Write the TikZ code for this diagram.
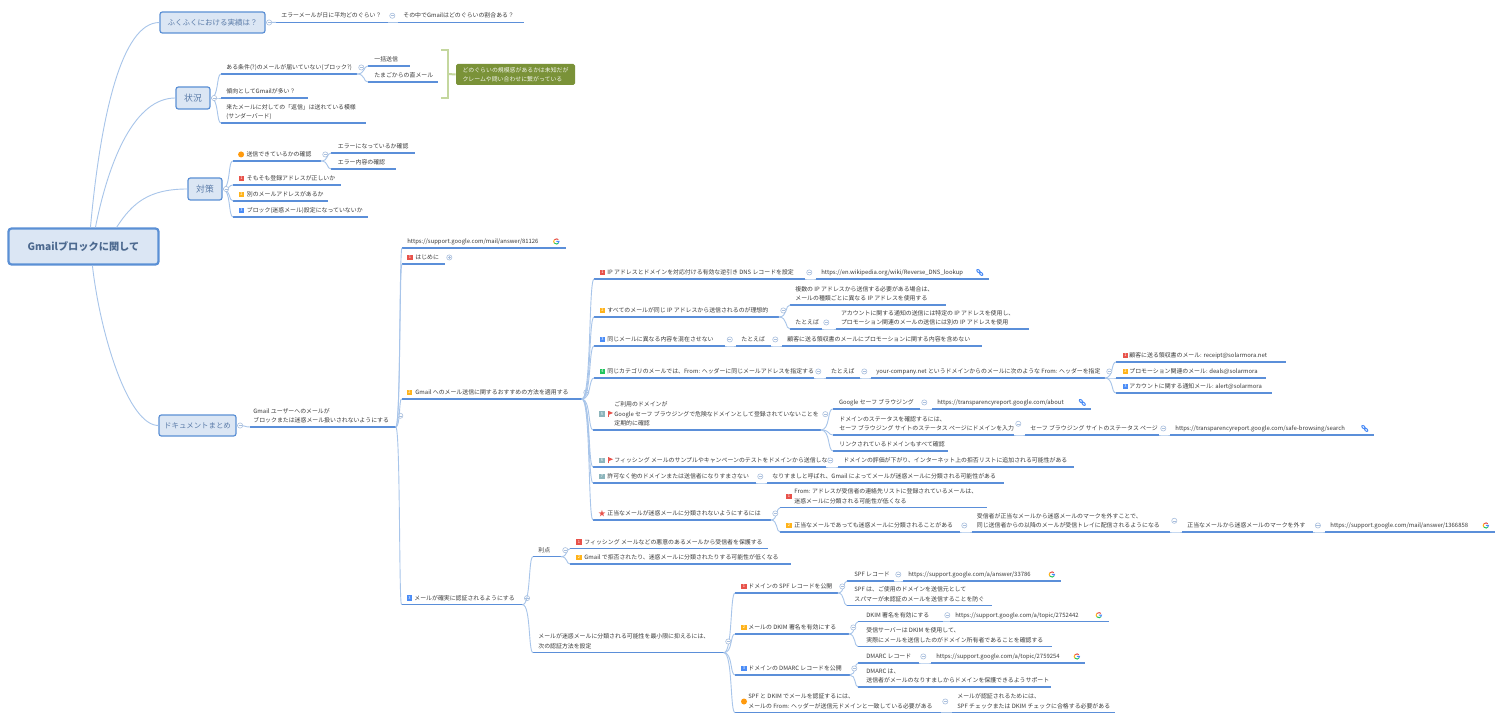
\documentclass[tikz,border=0pt]{standalone}
\usepackage{fontspec}
\setmainfont{Noto Sans CJK JP}
\usetikzlibrary{calc}
\definecolor{ul}{HTML}{5B8FD9}
\definecolor{lk}{HTML}{A8C5EA}
\definecolor{bxf}{HTML}{DBE6F4}
\definecolor{bxd}{HTML}{5B90D5}
\definecolor{bxt}{HTML}{5A7BA8}
\definecolor{mk}{HTML}{A9BFDD}
\definecolor{ct}{HTML}{3A3A3A}
\definecolor{cr}{HTML}{E8524A}
\definecolor{ca}{HTML}{FFB31A}
\definecolor{cb}{HTML}{4A8CF7}
\definecolor{cg}{HTML}{22C55E}
\definecolor{ce}{HTML}{8DB5BC}
\definecolor{co}{HTML}{FF9A0E}
\definecolor{gbox}{HTML}{7A9238}
\definecolor{gbr}{HTML}{C4D79E}
\tikzset{
 tpn/.style={anchor=south west,inner xsep=0pt,inner ysep=0.75pt,text=ct,font=\fontsize{2.95}{4.65}\selectfont},
 lnkc/.style={draw=lk,line width=0.45pt},
 uln/.style={draw=ul,line width=0.6pt},
 topb/.style={draw=bxd,fill=bxf,rounded corners=1.2pt,line width=0.6pt,inner sep=0pt,text=bxt},
 mrkn/.style={circle,draw=mk,line width=0.3pt,inner sep=0pt,minimum size=2.6pt,fill=white},
 bdg/.style={fill=#1,inner sep=0pt,minimum size=2.9pt,text=white,font=\fontsize{2}{2}\selectfont},
 bdgc/.style={circle,fill=#1,inner sep=0pt,minimum size=3pt},
}
\newcommand\tp[6]{\pgfmathsetmacro\tpw{(#3-#2)*0.5}\pgfmathsetmacro\tpp{#5*0.5}%
 \node[tpn] (#1) at (#2,#4) {\makebox[\tpw pt][l]{\begin{tabular}{@{\hspace{\tpp pt}}l@{}}#6\end{tabular}}};
 \draw[uln] (#1.south west) -- (#1.south east);}
\newcommand\bx[7]{\pgfmathsetmacro\tpw{(#4-#2)*0.5}\pgfmathsetmacro\tpp{(#5-#3)*0.5}%
 \node[topb,minimum width=\tpw pt,minimum height=\tpp pt,font=\fontsize{#6}{#6}\selectfont] (#1) at ({(#2+#4)/2},{(#3+#5)/2}) {#7};}
\newcommand\lnk[2]{\draw[lnkc] let \p1=(#1),\p2=(#2) in (\p1) .. controls ({0.2*\x1+0.8*\x2},\y1) and ({0.45*\x1+0.55*\x2},\y2) .. (\p2);}
\newcommand\mrk[1]{\node[mrkn] (#1-m) at ($(#1.east)+(4.5,0)$) {};
 \draw[draw=mk,line width=0.3pt] ($(#1-m.center)+(-1.6,0)$) -- ($(#1-m.center)+(1.6,0)$);}
\newcommand\mrkb[2]{\node[mrkn] (#1-m) at ($(#1.east)+(#2,0)$) {};
 \draw[draw=mk,line width=0.3pt] ($(#1-m.center)+(-1.6,0)$) -- ($(#1-m.center)+(1.6,0)$);}
\newcommand\bd[4]{\node[bdg=#3] (#1-b) at ($(#1.west)+(#2,0)$) {#4};}
\newcommand\bo[2]{\node[bdgc=co] (#1-b) at ($(#1.west)+(#2,0)$) {};}
\newcommand\flg[2]{\draw[cr,line width=0.35pt] ($(#1.west)+(#2,3)$) -- ($(#1.west)+(#2,-3.2)$);
 \fill[cr] ($(#1.west)+(#2,-3.2)$) -- ($(#1.west)+(#2+4.6,-1.2)$) -- ($(#1.west)+(#2,0.8)$) -- cycle;}
\newcommand\gico[2]{\begin{scope}[shift={($(#1.east)+(#2,0)$)},yscale=-1,line width=0.5pt]
 \draw[cr] (140:2.6) arc[start angle=140,end angle=40,radius=2.6];
 \draw[ca] (140:2.6) arc[start angle=140,end angle=220,radius=2.6];
 \draw[cg] (220:2.6) arc[start angle=220,end angle=320,radius=2.6];
 \draw[cb] (320:2.6) arc[start angle=320,end angle=360,radius=2.6] -- (0,0);
 \end{scope}}
\newcommand\lki[2]{\begin{scope}[shift={($(#1.east)+(#2,0)$)},rotate=-45,line width=0.5pt,cb]
 \draw (-1.9,0) ellipse[x radius=2,y radius=1.2];
 \draw (1.9,0) ellipse[x radius=2,y radius=1.2];
 \draw (-1,0) -- (1,0);
 \end{scope}}
\begin{document}
\begin{tikzpicture}[x=0.5pt,y=-0.5pt]
\useasboundingbox (0,0) rectangle (1503,721);
\fill[white] (0,0) rectangle (1503,721);
% main boxes
\node[topb,line width=1.1pt,rounded corners=1.5pt,minimum width=75pt,minimum height=18pt,font=\fontsize{5.1}{6}\selectfont\bfseries,text=bxt!85!black] (root) at (83.5,246.5) {Gmailブロックに関して};
\bx{b1}{160}{12}{265}{33}{3.75}{ふくふくにおける実績は？}
\bx{b2}{176}{87}{210}{109}{4.4}{状況}
\bx{b3}{188}{178}{222}{200}{4.4}{対策}
\bx{b4}{159}{415}{236}{436}{3.7}{ドキュメントまとめ}
\draw[lnkc] (root.70) .. controls ($(root.70)+(10,-110)$) and ($(b1.west)+(-38,0)$) .. (b1.west);
\draw[lnkc] (root.58) .. controls ($(root.58)+(14,-70)$) and ($(b2.west)+(-40,0)$) .. (b2.west);
\draw[lnkc] (root.30) .. controls ($(root.30)+(16,-25)$) and ($(b3.west)+(-38,0)$) .. (b3.west);
\draw[lnkc] (root.-65) .. controls ($(root.-65)+(8,70)$) and ($(b4.west)+(-30,0)$) .. (b4.west);
% fukufuku
\tp{a1}{276}{387}{22.3}{5}{エラーメールが日に平均どのぐらい？}
\tp{a2}{398}{523}{22.3}{5}{その中でGmailはどのぐらいの割合ある？}
\lnk{b1.east}{a1.south west}\lnk{a1.south east}{a2.south west}
\mrkb{b1}{3.5}\mrk{a1}
% jokyo
\tp{s1}{221}{356}{74}{5}{ある条件(?)のメールが届いていない(ブロック?)}
\tp{s11}{368}{409}{66}{6}{一括送信}
\tp{s12}{368}{437}{82}{6}{たまごからの直メール}
\tp{s2}{221}{307}{98}{5}{傾向としてGmailが多い？}
\tp{s3}{221}{365}{123}{5}{来たメールに対しての「返信」は送れている模様\\(サンダーバード)}
\lnk{b2.east}{s1.south west}\lnk{b2.east}{s2.south west}\lnk{b2.east}{s3.south west}
\lnk{s1.south east}{s11.south west}\lnk{s1.south east}{s12.south west}
\mrkb{b2}{3.5}\mrk{s1}
\coordinate (brt) at (441,50);\coordinate (brb) at (441,98);\coordinate (brm) at (448,74);
\draw[gbr,line width=1pt] (brt) -- (448,50) -- (448,98) -- (brb);
\node[fill=gbox,rounded corners=0.8pt,minimum width=59.5pt,minimum height=10.5pt,inner sep=0pt,text=white!90!gbox,font=\fontsize{2.95}{4.3}\selectfont,align=left] (gb) at (515.5,74.5) {どのぐらいの規模感があるかは未知だが\\クレームや問い合わせに繋がっている};
\draw[gbr,line width=1pt] (brm) -- (gb.west);
% taisaku
\tp{t1}{232.6}{320}{161}{13.5}{送信できているかの確認}
\tp{t11}{331}{414}{153}{6.5}{エラーになっているか確認}
\tp{t12}{331}{395}{169}{6.5}{エラー内容の確認}
\tp{t2}{233}{340}{185}{13.5}{そもそも登録アドレスが正しいか}
\tp{t3}{233}{327}{201}{13.5}{別のメールアドレスがあるか}
\tp{t4}{233}{367}{217}{13.5}{ブロック(迷惑メール)設定になっていないか}
\bo{t1}{8.5}\bd{t2}{8.5}{cr}{1}\bd{t3}{8.5}{ca}{2}\bd{t4}{8.5}{cb}{3}
\lnk{b3.east}{t1.south west}\lnk{b3.east}{t2.south west}\lnk{b3.east}{t3.south west}\lnk{b3.east}{t4.south west}
\lnk{t1.south east}{t11.south west}\lnk{t1.south east}{t12.south west}
\mrkb{b3}{3.5}\mrk{t1}
% document
\tp{d0}{250}{395}{427}{3}{Gmail ユーザーへのメールが\\ブロックまたは迷惑メール扱いされないようにする}
\lnk{b4.east}{d0.south west}\mrkb{b4}{3.5}\mrk{d0}
\tp{d1}{402}{565}{248}{5}{https://support.google.com/mail/answer/81126}
\tp{d2}{402}{444}{264}{13}{はじめに}
\tp{d3}{401.5}{581}{399}{13.5}{Gmail へのメール送信に関するおすすめの方法を適用する}
\tp{d4}{401.5}{521.7}{604.7}{12.5}{メールが確実に認証されるようにする}
\bd{d2}{8}{cr}{1}\bd{d3}{8}{ca}{2}\bd{d4}{8}{cb}{3}
\gico{d1}{-9.5}
\lnk{d0.south east}{d1.south west}\lnk{d0.south east}{d2.south west}\lnk{d0.south east}{d3.south west}\lnk{d0.south east}{d4.south west}
\mrk{d2}\draw[draw=mk,line width=0.3pt] ($(d2-m.center)+(0,-1.6)$) -- ($(d2-m.center)+(0,1.6)$);
\mrk{d3}\mrk{d4}
% recommended
\tp{g1}{594}{804}{279}{13}{IP アドレスとドメインを対応付ける有効な逆引き DNS レコードを設定}
\tp{g11}{816}{988}{279}{5}{https://en.wikipedia.org/wiki/Reverse\_DNS\_lookup}
\tp{g2}{594}{778}{317}{13}{すべてのメールが同じ IP アドレスから送信されるのが理想的}
\tp{g21}{790}{945}{305}{5}{複数の IP アドレスから送信する必要がある場合は、\\メールの種類ごとに異なる IP アドレスを使用する}
\tp{g22}{790}{821}{329}{5}{たとえば}
\tp{g221}{835.6}{1028}{329}{5}{アカウントに関する通知の送信には特定の IP アドレスを使用し、\\プロモーション関連のメールの送信には別の IP アドレスを使用}
\tp{g3}{594}{724.5}{346}{13}{同じメールに異なる内容を混在させない}
\tp{g31}{736}{770}{346}{5}{たとえば}
\tp{g32}{782}{981}{346}{5}{顧客に送る領収書のメールにプロモーションに関する内容を含めない}
\tp{g4}{594}{813}{378}{13}{同じカテゴリのメールでは、From: ヘッダーに同じメールアドレスを指定する}
\tp{g41}{825.6}{859}{378}{5}{たとえば}
\tp{g42}{871}{1104}{378}{5}{your-company.net というドメインからのメールに次のような From: ヘッダーを指定}
\tp{g421}{1116}{1285}{362}{13}{顧客に送る領収書のメール: receipt@solarmora.net}
\tp{g422}{1116}{1265.5}{378}{13}{プロモーション関連のメール: deals@solarmora}
\tp{g423}{1116}{1271}{393}{13}{アカウントに関する通知メール: alert@solarmora}
\tp{g5}{593}{820}{430}{21}{ご利用のドメインが\\ Google セーフ ブラウジングで危険なドメインとして登録されていないことを\\定期的に確認}
\tp{g51}{832.6}{919}{409}{6}{Google セーフ ブラウジング}
\tp{g511}{932}{1090}{409}{5}{https://transparencyreport.google.com/about}
\tp{g52}{833}{1013}{435}{6}{ドメインのステータスを確認するには、\\セーフ ブラウジング サイトのステータス ページにドメインを入力}
\tp{g521}{1025}{1158}{435}{5}{セーフ ブラウジング サイトのステータス ページ}
\tp{g522}{1170}{1373.5}{435}{5}{https://transparencyreport.google.com/safe-browsing/search}
\tp{g53}{833}{947.5}{451}{6}{リンクされているドメインもすべて確認}
\tp{g6}{593}{825}{467}{21}{フィッシング メールのサンプルやキャンペーンのテストをドメインから送信しない}
\tp{g61}{838}{1073}{467}{5}{ドメインの評価が下がり、インターネット上の拒否リストに追加される可能性がある}
\tp{g7}{593}{755}{483}{14}{許可なく他のドメインまたは送信者になりすまさない}
\tp{g71}{767}{1003.6}{483}{5}{なりすましと呼ばれ、Gmail によってメールが迷惑メールに分類される可能性がある}
\tp{g8}{593}{770}{520}{14}{正当なメールが迷惑メールに分類されないようにするには}
\tp{g81}{780}{986.6}{507.7}{14}{From: アドレスが受信者の連絡先リストに登録されているメールは、\\迷惑メールに分類される可能性が低くなる}
\tp{g82}{780}{959}{532}{14}{正当なメールであっても迷惑メールに分類されることがある}
\tp{g821}{971.5}{1169}{532}{5}{受信者が正当なメールから迷惑メールのマークを外すことで、\\同じ送信者からの以降のメールが受信トレイに配信されるようになる}
\tp{g822}{1182}{1312.6}{532}{5}{正当なメールから迷惑メールのマークを外す}
\tp{g823}{1325}{1494}{532}{5}{https://support.google.com/mail/answer/1366858}
\bd{g1}{8.5}{cr}{1}\bd{g2}{8.5}{ca}{2}\bd{g3}{8.5}{cb}{3}\bd{g4}{8.5}{cg}{4}
\bd{g5}{9}{ce}{5}\flg{g5}{15.5}\bd{g6}{9}{ce}{6}\flg{g6}{15.5}\bd{g7}{9}{ce}{7}
\node[text=cr,inner sep=0pt,font=\fontsize{3.7}{3.7}\selectfont] (g8-s) at ($(g8.west)+(9,0)$) {★};
\bd{g421}{9.5}{cr}{1}\bd{g422}{9.5}{ca}{2}\bd{g423}{9.5}{cb}{3}
\bd{g81}{9}{cr}{1}\bd{g82}{9}{ca}{2}
\gico{g823}{-9}\lki{g11}{-9}\lki{g511}{-8.5}\lki{g522}{-9.5}
\foreach \c in {g1,g2,g3,g4,g5,g6,g7,g8}{\lnk{d3.south east}{\c.south west}}
\lnk{g1.south east}{g11.south west}
\lnk{g2.south east}{g21.south west}\lnk{g2.south east}{g22.south west}\lnk{g22.south east}{g221.south west}
\lnk{g3.south east}{g31.south west}\lnk{g31.south east}{g32.south west}
\lnk{g4.south east}{g41.south west}\lnk{g41.south east}{g42.south west}
\lnk{g42.south east}{g421.south west}\lnk{g42.south east}{g422.south west}\lnk{g42.south east}{g423.south west}
\lnk{g5.south east}{g51.south west}\lnk{g5.south east}{g52.south west}\lnk{g5.south east}{g53.south west}
\lnk{g51.south east}{g511.south west}\lnk{g52.south east}{g521.south west}\lnk{g521.south east}{g522.south west}
\lnk{g6.south east}{g61.south west}\lnk{g7.south east}{g71.south west}
\lnk{g8.south east}{g81.south west}\lnk{g8.south east}{g82.south west}
\lnk{g82.south east}{g821.south west}\lnk{g821.south east}{g822.south west}\lnk{g822.south east}{g823.south west}
\foreach \c in {g1,g2,g22,g3,g31,g4,g41,g42,g5,g51,g52,g521,g6,g7,g8,g82,g821,g822}{\mrk{\c}}
% authentication
\tp{h1}{533}{560}{556.7}{5}{利点}
\tp{h11}{570}{767}{548.7}{14}{フィッシング メールなどの悪意のあるメールから受信者を保護する}
\tp{h12}{570}{790}{564}{14}{Gmail で拒否されたり、迷惑メールに分類されたりする可能性が低くなる}
\tp{h2}{533}{723}{652.7}{5}{メールが迷惑メールに分類される可能性を最小限に抑えるには、\\次の認証方法を設定}
\tp{i1}{735}{837}{593}{13}{ドメインの SPF レコードを公開}
\tp{i11}{847}{893}{581}{7}{SPF レコード}
\tp{i111}{903}{1060}{581}{5}{https://support.google.com/a/answer/33786}
\tp{i12}{847}{991}{605.7}{7}{SPF は、ご使用のドメインを送信元として\\スパマーが未認証のメールを送信することを防ぐ}
\tp{i2}{735}{848}{634}{13}{メールの DKIM 署名を有効にする}
\tp{i21}{858}{942}{621.7}{8}{DKIM 署名を有効にする}
\tp{i211}{950}{1108}{621.7}{5}{https://support.google.com/a/topic/2752442}
\tp{i22}{858}{1051}{646.7}{8}{受信サーバーは DKIM を使用して、\\実際にメールを送信したのがドメイン所有者であることを確認する}
\tp{i3}{735}{849}{675}{13}{ドメインの DMARC レコードを公開}
\tp{i31}{858}{918}{663}{8}{DMARC レコード}
\tp{i311}{931}{1084}{663}{5}{https://support.google.com/a/topic/2759254}
\tp{i32}{858}{1050}{687}{8}{DMARC は、\\送信者がメールのなりすましからドメインを保護できるようサポート}
\tp{i4}{735}{940}{712.7}{13}{SPF と DKIM でメールを認証するには、\\メールの From: ヘッダーが送信元ドメインと一致している必要がある}
\tp{i41}{952}{1114}{712.7}{5}{メールが認証されるためには、\\SPF チェックまたは DKIM チェックに合格する必要がある}
\bd{h11}{9}{cr}{1}\bd{h12}{9}{ca}{2}\bd{i1}{9}{cr}{1}\bd{i2}{9}{ca}{2}\bd{i3}{9}{cb}{3}\bo{i4}{9}
\gico{i111}{-9}\gico{i211}{-10}\gico{i311}{-8}
\lnk{d4.south east}{h1.south west}\lnk{d4.south east}{h2.south west}
\lnk{h1.south east}{h11.south west}\lnk{h1.south east}{h12.south west}
\foreach \c in {i1,i2,i3,i4}{\lnk{h2.south east}{\c.south west}}
\lnk{i1.south east}{i11.south west}\lnk{i1.south east}{i12.south west}\lnk{i11.south east}{i111.south west}
\lnk{i2.south east}{i21.south west}\lnk{i2.south east}{i22.south west}\lnk{i21.south east}{i211.south west}
\lnk{i3.south east}{i31.south west}\lnk{i3.south east}{i32.south west}\lnk{i31.south east}{i311.south west}
\lnk{i4.south east}{i41.south west}
\foreach \c in {h1,h2,i1,i11,i2,i21,i3,i31,i4}{\mrk{\c}}
\end{tikzpicture}
\end{document}
